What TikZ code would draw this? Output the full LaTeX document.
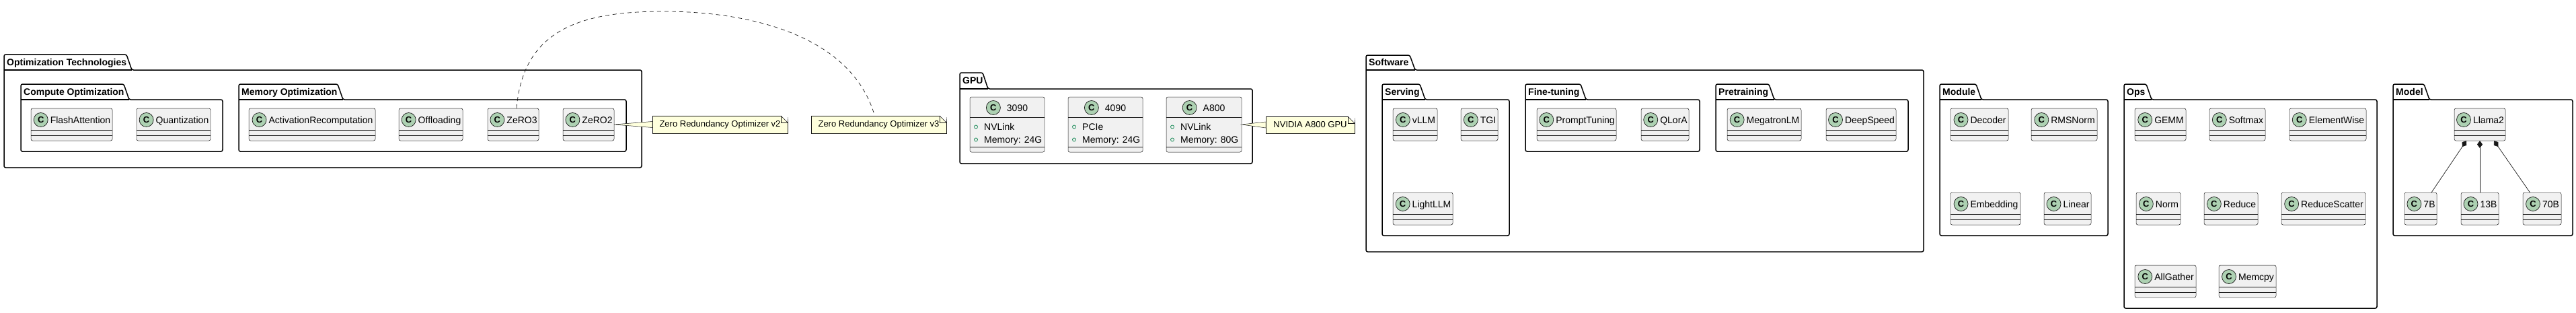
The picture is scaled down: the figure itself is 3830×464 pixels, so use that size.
\documentclass[tikz,border=0pt]{standalone}
\usepackage{fontspec}
\setmainfont{Liberation Sans}
\usepackage{tikz}
\usetikzlibrary{positioning,arrows.meta}

\definecolor{classfill}{HTML}{F1F1F1}
\definecolor{classdraw}{HTML}{181818}
\definecolor{spotfill}{HTML}{ADD1B2}
\definecolor{notefill}{HTML}{FEFFDD}
\definecolor{attrgreen}{HTML}{038048}

% package: name, title, x1, tab right, tab top, body top, x2, bottom
\newcommand{\umlpackage}[8]{%
  \draw[pkgline] (#3,#6) -- (#3,#5) -- (#4-8,#5) -- (#4,#6) -- (#7,#6) -- (#7,#8) -- (#3,#8) -- cycle;
  \draw[pkgline] (#3,#6) -- (#4,#6);
  \node[pkgtitle, anchor=west] (#1) at (#3+4,{(#5+#6)/2+1}) {#2};
}
% class: name, x1, x2, top, label
\newcommand{\umlclass}[5]{%
  \node[classbox, anchor=north west, minimum width={#3-#2}, minimum height=48] (#1) at (#2,#4) {};
  \draw[classline] ([yshift=-32pt]#1.north west) -- ([yshift=-32pt]#1.north east);
  \draw[classline] ([yshift=-40pt]#1.north west) -- ([yshift=-40pt]#1.north east);
  \node[classname] (#1-name) at ([xshift=13pt,yshift=-19pt]#1.north) {#5};
  \node[spot, anchor=east] (#1-spot) at ([xshift=-3pt,yshift=2pt]#1-name.west) {C};
}
% gpu class: name, x1, x2, label, attribute 1, attribute 2
\newcommand{\gpuclass}[6]{%
  \node[classbox, anchor=north west, minimum width={#3-#2}, minimum height=82] (#1) at (#2,144) {};
  \draw[classline] ([yshift=-30pt]#1.north west) -- ([yshift=-30pt]#1.north east);
  \draw[classline] ([yshift=-74pt]#1.north west) -- ([yshift=-74pt]#1.north east);
  \node[classname] (#1-name) at ([xshift=15pt,yshift=-18pt]#1.north) {#4};
  \node[spot, anchor=east] (#1-spot) at ([xshift=-9pt,yshift=2pt]#1-name.west) {C};
  \node[attr, anchor=west] (#1-a) at ([xshift=21pt,yshift=-46pt]#1.north west) {#5};
  \node[attr, anchor=west] (#1-b) at ([xshift=21pt,yshift=-65pt]#1.north west) {#6};
  \draw[attrdot] ([xshift=-12pt,yshift=1.5pt]#1-a.west) circle (2.5pt);
  \draw[attrdot] ([xshift=-12pt,yshift=1.5pt]#1-b.west) circle (2.5pt);
}
% note: name, x1, x2, top, bottom, text
\newcommand{\umlnote}[6]{%
  \node[notebox, anchor=north west, minimum width={#3-#2}, minimum height={#5-#4}] (#1) at (#2,#4) {#6};
  \fill[white] ([xshift=-10pt]#1.north east) -- ([xshift=1pt,yshift=1pt]#1.north east) -- ([yshift=-10pt]#1.north east) -- cycle;
  \draw[noteline] ([xshift=-10pt]#1.north east) -- ([yshift=-10pt]#1.north east);
  \draw[noteline] ([xshift=-10pt]#1.north east) -- ([xshift=-10pt,yshift=-10pt]#1.north east) -- ([yshift=-10pt]#1.north east);
}

\begin{document}
\begin{tikzpicture}[x=1pt,y=-1pt,
    pkgline/.style={draw=black,line width=1.5pt,rounded corners=2.5pt},
    pkgtitle/.style={inner sep=0pt,text height=10pt,text depth=3pt,font=\fontsize{14}{16}\selectfont\bfseries},
    classbox/.style={draw=classdraw,fill=classfill,line width=0.5pt,rounded corners=2.5pt,inner sep=0pt,outer sep=0pt},
    classline/.style={draw=classdraw,line width=0.5pt},
    classname/.style={inner sep=0pt,text height=10pt,text depth=3pt,font=\fontsize{14}{16}\selectfont},
    spot/.style={circle,draw=classdraw,fill=spotfill,line width=0.7pt,minimum size=21pt,inner sep=0pt,font=\fontsize{13}{13}\selectfont\bfseries},
    attr/.style={inner sep=0pt,text height=10pt,text depth=3pt,font=\fontsize{14}{16}\selectfont},
    attrdot/.style={draw=attrgreen,line width=0.7pt},
    notebox/.style={draw=classdraw,fill=notefill,line width=0.5pt,inner sep=0pt,outer sep=0pt,font=\fontsize{13}{15}\selectfont},
    noteline/.style={draw=classdraw,line width=0.5pt},
    notelink/.style={draw=classdraw,fill=notefill,line width=0.5pt},
    compose/.style={{Diamond[length=11pt,width=8pt]}-,draw=classdraw,line width=0.7pt}]
    \fill[white] (0,0) rectangle (3830,464);
    \useasboundingbox (0,0) rectangle (3830,464);

    % Optimization Technologies
    \umlpackage{optTech}{Optimization Technologies}{6}{196}{81}{104}{954}{249}
    \umlpackage{computeOpt}{Compute Optimization}{31}{192}{125}{148}{331}{225}
    \umlpackage{memoryOpt}{Memory Optimization}{355}{510}{125}{148}{931}{225}
    \umlclass{flash}{46}{167}{161}{FlashAttention}
    \umlclass{quant}{203}{313}{161}{Quantization}
    \umlclass{actRecomp}{370}{558}{161}{ActivationRecomputation}
    \umlclass{offload}{593}{688}{161}{Offloading}
    \umlclass{zero3}{725}{801}{161}{ZeRO3}
    \umlclass{zero2}{837}{913}{161}{ZeRO2}

    % notes
    \umlnote{noteZ2}{970}{1171}{172}{198}{Zero Redundancy Optimizer v2}
    \umlnote{noteZ3}{1206}{1407}{172}{198}{Zero Redundancy Optimizer v3}
    \draw[notelink] (zero2.east) -- ([yshift=4.5pt]noteZ2.west) -- ([yshift=-4.5pt]noteZ2.west) -- cycle;
    \draw[classdraw,line width=0.7pt,dash pattern=on 6pt off 5pt]
        ([xshift=5pt]zero3.north) .. controls (778,40) and (870,17) .. (987,17)
        .. controls (1110,17) and (1265,50) .. ([xshift=-6pt]noteZ3.north);

    % GPU
    \umlpackage{gpu}{GPU}{1427}{1469}{108}{132}{1862}{243}
    \gpuclass{g3090}{1442}{1553}{3090}{NVLink}{Memory: 24G}
    \gpuclass{g4090}{1588}{1699}{4090}{PCIe}{Memory: 24G}
    \gpuclass{a800}{1734}{1846}{A800}{NVLink}{Memory: 80G}
    \umlnote{noteA800}{1882}{2014}{173}{198}{NVIDIA A800 GPU}
    \draw[notelink] (a800.east) -- ([yshift=4.5pt]noteA800.west) -- ([yshift=-4.5pt]noteA800.west) -- cycle;

    % Software
    \umlpackage{software}{Software}{2031}{2104}{82}{104}{2860}{374}
    \umlpackage{serving}{Serving}{2055}{2119}{125}{148}{2244}{350}
    \umlpackage{fineTuning}{Fine-tuning}{2268}{2358}{125}{148}{2527}{225}
    \umlpackage{pretraining}{Pretraining}{2551}{2638}{125}{148}{2837}{225}
    \umlclass{vllm}{2071}{2137}{161}{vLLM}
    \umlclass{tgi}{2172}{2227}{161}{TGI}
    \umlclass{lightllm}{2071}{2160}{286}{LightLLM}
    \umlclass{promptTuning}{2285}{2403}{161}{PromptTuning}
    \umlclass{qlora}{2440}{2511}{161}{QLorA}
    \umlclass{megatron}{2568}{2678}{161}{MegatronLM}
    \umlclass{deepspeed}{2715}{2819}{161}{DeepSpeed}

    % Module
    \umlpackage{module}{Module}{2884}{2946}{125}{148}{3134}{350}
    \umlclass{decoder}{2900}{2986}{161}{Decoder}
    \umlclass{rmsnorm}{3020}{3118}{161}{RMSNorm}
    \umlclass{embedding}{2900}{3004}{286}{Embedding}
    \umlclass{linear}{3039}{3109}{286}{Linear}

    % Ops
    \umlpackage{ops}{Ops}{3158}{3199}{125}{148}{3534}{458}
    \umlclass{gemm}{3174}{3250}{161}{GEMM}
    \umlclass{softmax}{3285}{3368}{161}{Softmax}
    \umlclass{elementWise}{3404}{3518}{161}{ElementWise}
    \umlclass{norm}{3176}{3242}{286}{Norm}
    \umlclass{reduce}{3277}{3357}{286}{Reduce}
    \umlclass{reduceScatter}{3392}{3517}{286}{ReduceScatter}
    \umlclass{allGather}{3174}{3265}{394}{AllGather}
    \umlclass{memcpy}{3299}{3384}{394}{Memcpy}

    % Model
    \umlpackage{model}{Model}{3558}{3612}{125}{148}{3825}{350}
    \umlclass{llama}{3649}{3725}{161}{Llama2}
    \umlclass{b7}{3575}{3623}{286}{7B}
    \umlclass{b13}{3659}{3715}{286}{13B}
    \umlclass{b70}{3751}{3808}{286}{70B}
    \draw[compose] ([xshift=-20pt]llama.south) -- ([xshift=16pt]b7.north);
    \draw[compose] (llama.south) -- (b13.north);
    \draw[compose] ([xshift=21pt]llama.south) -- ([xshift=-18pt]b70.north);
\end{tikzpicture}
\end{document}
